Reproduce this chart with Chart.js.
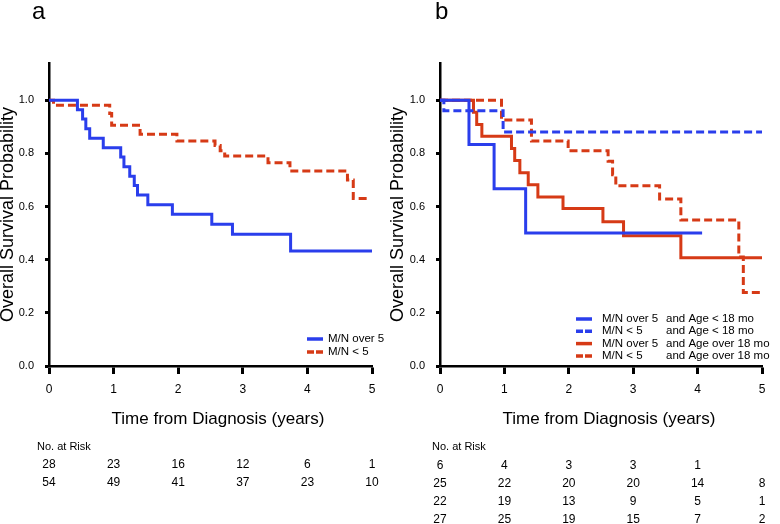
<!DOCTYPE html>
<html>
<head>
<meta charset="utf-8">
<script src="https://cdn.jsdelivr.net/npm/chart.js@4.4.0/dist/chart.umd.min.js"></script>
<style>
html, body { margin: 0; padding: 0; background: #fff; }
#wrap { position: relative; width: 780px; height: 524px; }
canvas { position: absolute; top: 0; }
</style>
</head>
<body>
<div id="wrap">
  <canvas id="chartA" width="390" height="524" style="left:0"></canvas>
  <canvas id="chartB" width="390" height="524" style="left:390px"></canvas>
</div>
<script>
// axes
var yearTicks = [0, 1, 2, 3, 4, 5];
var survTicks = [0, 0.2, 0.4, 0.6, 0.8, 1.0];
var xTitle = 'Time from Diagnosis (years)';
var yTitle = 'Overall Survival Probability';

// panel a
var aOver5Time = [0, 0.44, 0.52, 0.57, 0.63, 0.84, 1.11, 1.16, 1.25, 1.32, 1.37, 1.53, 1.91, 2.52, 2.84, 3.74, 5.0];
var aOver5Surv = [1, 0.964, 0.929, 0.893, 0.857, 0.821, 0.786, 0.75, 0.714, 0.679, 0.643, 0.607, 0.571, 0.533, 0.496, 0.433, 0.433];
var aUnder5Time = [0, 0.07, 0.94, 0.97, 1.41, 1.98, 2.57, 2.65, 2.72, 3.39, 3.73, 4.62, 4.71, 4.94];
var aUnder5Surv = [1, 0.981, 0.95, 0.906, 0.872, 0.847, 0.83, 0.81, 0.79, 0.765, 0.734, 0.70, 0.63, 0.63];
var aLabels = ['M/N over 5', 'M/N < 5'];
var aRisk = [
    [28, 23, 16, 12, 6, 1],
    [54, 49, 41, 37, 23, 10]
];

// panel b
var bOver5YoungTime = [0, 0.45, 0.84, 1.33, 4.07];
var bOver5YoungSurv = [1, 0.833, 0.667, 0.5, 0.5];
var bUnder5YoungTime = [0, 0.06, 0.98, 5.0];
var bUnder5YoungSurv = [1, 0.96, 0.88, 0.88];
var bOver5OldTime = [0, 0.52, 0.57, 0.65, 1.11, 1.16, 1.24, 1.37, 1.52, 1.91, 2.53, 2.85, 3.74, 5.0];
var bOver5OldSurv = [1, 0.955, 0.909, 0.864, 0.818, 0.773, 0.727, 0.682, 0.636, 0.593, 0.543, 0.49, 0.407, 0.407];
var bUnder5OldTime = [0, 0.955, 1.42, 1.99, 2.61, 2.68, 2.73, 3.41, 3.74, 4.64, 4.71, 4.98];
var bUnder5OldSurv = [1, 0.926, 0.847, 0.81, 0.77, 0.72, 0.678, 0.628, 0.549, 0.41, 0.277, 0.277];
var bLabelsMN = ['M/N over 5', 'M/N < 5', 'M/N over 5', 'M/N < 5'];
var bLabelsAge = ['and Age < 18 mo', 'and Age < 18 mo', 'and Age over 18 mo', 'and Age over 18 mo'];
var bRisk = [
    [6, 4, 3, 3, 1, ''],
    [25, 22, 20, 20, 14, 8],
    [22, 19, 13, 9, 5, 1],
    [27, 25, 19, 15, 7, 2]
];

var BLUE = 'rgb(42,62,236)';
var RED = 'rgb(214,58,22)';
var FONT = '"Liberation Sans", Arial, sans-serif';

var toPoints = function (times, surv) {
    return times.map(function (t, i) { return { x: t, y: surv[i] }; });
};

var curve = function (label, times, surv, color, dashed) {
    return {
        label: label,
        data: toPoints(times, surv),
        borderColor: color,
        borderWidth: 3,
        borderDash: dashed ? [8, 4] : [],
        stepped: true,
        pointRadius: 0,
        fill: false
    };
};

// letter, x title, legend and number-at-risk table
var overlay = function (cfg) {
    return {
        id: 'overlay',
        afterDraw: function (chart) {
            var ctx = chart.ctx;
            var xs = chart.scales.x;
            ctx.save();
            ctx.fillStyle = '#000';
            ctx.font = '24px ' + FONT;
            ctx.textBaseline = 'alphabetic';
            ctx.fillText(cfg.letter, cfg.letterX, 19);

            ctx.font = '17px ' + FONT;
            ctx.textAlign = 'center';
            ctx.textBaseline = 'middle';
            ctx.fillText(xTitle, cfg.titleX, 419);

            ctx.textAlign = 'left';
            ctx.font = '11.5px ' + FONT;
            chart.data.datasets.forEach(function (ds, i) {
                var y = cfg.legendY + i * cfg.legendStep;
                ctx.strokeStyle = ds.borderColor;
                ctx.lineWidth = 3.5;
                ctx.setLineDash(ds.borderDash.length ? [7, 2] : []);
                ctx.beginPath();
                ctx.moveTo(cfg.legendX, y);
                ctx.lineTo(cfg.legendX + 16, y);
                ctx.stroke();
                ctx.fillText(cfg.legendMN[i], cfg.legendX + cfg.textGap, y);
                if (cfg.legendAge) {
                    ctx.fillText(cfg.legendAge[i], cfg.legendX + 90, y);
                }
            });
            ctx.setLineDash([]);

            ctx.font = '11px ' + FONT;
            ctx.fillText('No. at Risk', cfg.riskX, 447);
            ctx.font = '12px ' + FONT;
            ctx.textAlign = 'center';
            cfg.risk.forEach(function (row, r) {
                row.forEach(function (n, i) {
                    ctx.fillText(String(n), xs.getPixelForValue(yearTicks[i]), cfg.riskY + r * cfg.riskStep);
                });
            });
            ctx.restore();
        }
    };
};

var makeOptions = function (yWidth) {
    return {
        responsive: false,
        animation: false,
        layout: { padding: { top: 63, right: 18, bottom: 94, left: 0 } },
        plugins: { legend: { display: false }, tooltip: { enabled: false } },
        scales: {
            x: {
                type: 'linear',
                min: 0,
                max: 5,
                afterFit: function (scale) { scale.height = 64; },
                afterBuildTicks: function (scale) {
                    scale.ticks = yearTicks.map(function (v) { return { value: v }; });
                },
                ticks: {
                    color: '#000',
                    font: { family: FONT, size: 12 },
                    padding: 8,
                    maxRotation: 0,
                    callback: function (v) { return String(v); }
                },
                grid: { display: true, drawOnChartArea: false, drawTicks: true, tickLength: 8, tickWidth: 3, tickColor: '#000' },
                border: { display: true, color: '#000', width: 2.5 },
                title: { display: false }
            },
            y: {
                type: 'linear',
                min: 0,
                max: 1.14,
                afterFit: function (scale) { scale.width = yWidth; },
                afterBuildTicks: function (scale) {
                    scale.ticks = survTicks.map(function (v) { return { value: v }; });
                },
                ticks: {
                    color: '#000',
                    font: { family: FONT, size: 11 },
                    padding: 11,
                    callback: function (v) { return v.toFixed(1); }
                },
                grid: { display: true, drawOnChartArea: false, drawTicks: true, tickLength: 4, tickWidth: 3, tickColor: '#000' },
                border: { display: true, color: '#000', width: 2.5 },
                title: {
                    display: true,
                    text: yTitle,
                    color: '#000',
                    font: { family: FONT, size: 18, lineHeight: 0.9 },
                    padding: 0
                }
            }
        }
    };
};

new Chart(document.getElementById('chartA').getContext('2d'), {
    type: 'line',
    data: {
        datasets: [
            curve(aLabels[0], aOver5Time, aOver5Surv, BLUE, false),
            curve(aLabels[1], aUnder5Time, aUnder5Surv, RED, true)
        ]
    },
    options: makeOptions(49),
    plugins: [overlay({
        letter: 'a', letterX: 32, titleX: 218,
        legendX: 307, legendY: 339, legendStep: 13, textGap: 21,
        legendMN: aLabels,
        riskX: 37, riskY: 465, riskStep: 17.5,
        risk: aRisk
    })]
});

new Chart(document.getElementById('chartB').getContext('2d'), {
    type: 'line',
    data: {
        datasets: [
            curve(bLabelsMN[0] + ' ' + bLabelsAge[0], bOver5YoungTime, bOver5YoungSurv, BLUE, false),
            curve(bLabelsMN[1] + ' ' + bLabelsAge[1], bUnder5YoungTime, bUnder5YoungSurv, BLUE, true),
            curve(bLabelsMN[2] + ' ' + bLabelsAge[2], bOver5OldTime, bOver5OldSurv, RED, false),
            curve(bLabelsMN[3] + ' ' + bLabelsAge[3], bUnder5OldTime, bUnder5OldSurv, RED, true)
        ]
    },
    options: makeOptions(50),
    plugins: [overlay({
        letter: 'b', letterX: 45, titleX: 219,
        legendX: 186, legendY: 319, legendStep: 12.3, textGap: 26,
        legendMN: bLabelsMN,
        legendAge: bLabelsAge,
        riskX: 42, riskY: 466, riskStep: 18,
        risk: bRisk
    })]
});
</script>
</body>
</html>
